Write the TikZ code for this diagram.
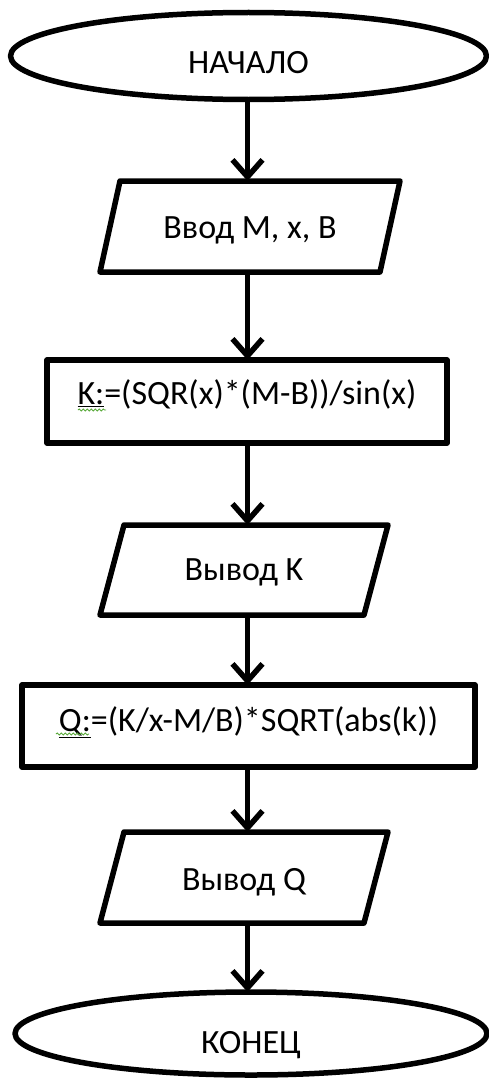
\documentclass[tikz,border=0pt]{standalone}
\usepackage{fontspec}
\setmainfont{Carlito}
\usetikzlibrary{shapes.geometric,arrows.meta,calc,decorations.pathmorphing}
\begin{document}
\begin{tikzpicture}[x=1pt,y=-1pt,
  every node/.style={font=\fontsize{34}{40}\selectfont, inner sep=0pt, outer sep=0pt},
  line/.style={line width=5.5pt, line join=round},
  term/.style={line, draw, ellipse},
  procbox/.style={line, draw, rectangle},
  iobox/.style={rectangle, draw=none},
  arr/.style={line, -{Straight Barb[length=17pt,width=30pt]}},
  squiggle/.style={draw={rgb,255:red,90;green,170;blue,60}, line width=0.9pt,
    decorate, decoration={snake, segment length=4pt, amplitude=1pt}}
]
\useasboundingbox (0,0) rectangle (489,1081);
\fill[white] (0,0) rectangle (489,1081);

\node[term, minimum width=476pt, minimum height=87pt, text height=34.5pt, text depth=0pt] (start) at (248.5,56) {НАЧАЛО};

\node[iobox, minimum width=300pt, minimum height=91pt, text height=23.5pt, text depth=0pt] (in) at (250,226.5) {Ввод M, x, B};
\draw[line] (in.south west) -- ($(in.south east)+(-20,0)$) -- (in.north east) -- ($(in.north west)+(20,0)$) -- cycle;

\node[procbox, minimum width=400pt, minimum height=83pt, text height=21.5pt, text depth=16pt] (k) at (247,401.5) {\underline{K:}=(SQR(x)*(M-B))/sin(x)};

\node[iobox, minimum width=288pt, minimum height=90pt, text height=21.5pt, text depth=0pt] (outk) at (244,570) {Вывод K};
\draw[line] (outk.south west) -- ($(outk.south east)+(-24,0)$) -- (outk.north east) -- ($(outk.north west)+(24,0)$) -- cycle;

\node[procbox, minimum width=453pt, minimum height=82pt, text height=21.5pt, text depth=10pt] (q) at (248.5,726) {\underline{Q:}=(K/x-M/B)*SQRT(abs(k))};

\node[iobox, minimum width=288pt, minimum height=91pt, text height=26.5pt, text depth=0pt] (outq) at (244,877.5) {Вывод Q};
\draw[line] (outq.south west) -- ($(outq.south east)+(-24,0)$) -- (outq.north east) -- ($(outq.north west)+(24,0)$) -- cycle;

\node[term, minimum width=472pt, minimum height=83pt, text height=39.5pt, text depth=0pt] (end) at (251,1033.5) {КОНЕЦ};

\coordinate (ax) at (247.5,0);
\draw[arr] (start.south -| ax) -- (in.north -| ax);
\draw[arr] (in.south -| ax) -- (k.north -| ax);
\draw[arr] (k.south -| ax) -- (outk.north -| ax);
\draw[arr] (outk.south -| ax) -- (q.north -| ax);
\draw[arr] (q.south -| ax) -- (outq.north -| ax);
\draw[arr] (outq.south -| ax) -- (end.north -| ax);

\draw[squiggle] (78,410) -- (106,410);
\draw[squiggle] (56,734) -- (89,734);
\end{tikzpicture}
\end{document}
